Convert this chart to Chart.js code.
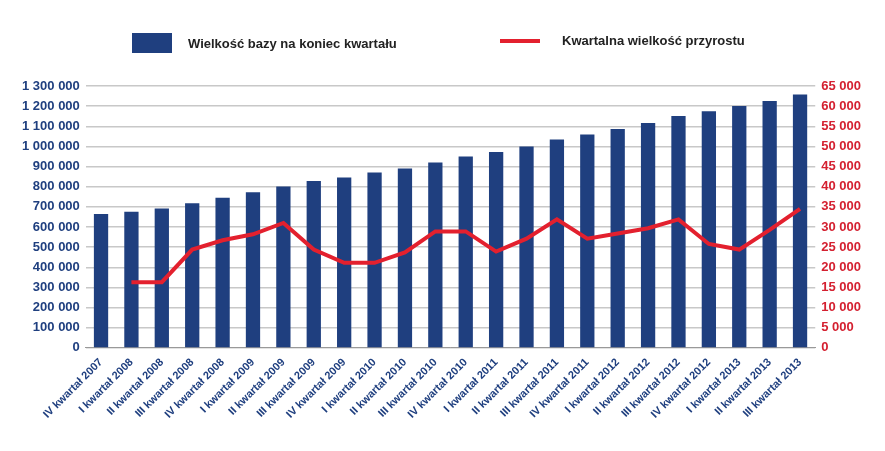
<!DOCTYPE html>
<html>
<head>
<meta charset="utf-8">
<script src="https://cdn.jsdelivr.net/npm/chart.js@4"></script>
<style>
  body { margin: 0; background: #fff; font-family: "Liberation Sans", Arial, sans-serif; }
  #wrap { position: relative; width: 885px; height: 451px; }
  .leg { position: absolute; top: 33px; font-size: 13px; font-weight: bold; color: #222; display: flex; align-items: center; }
  .leg span.box { display: inline-block; width: 40px; height: 20px; background: #1f3f7f; margin-right: 16px; }
  .leg span.ln { display: inline-block; width: 40px; height: 4px; background: #e3202e; margin-right: 22px; }
</style>
</head>
<body>
<div id="wrap">
  <div class="leg" style="left:132px"><span class="box"></span>Wielkość bazy na koniec kwartału</div>
  <div class="leg" style="left:500px"><span class="ln"></span>Kwartalna wielkość przyrostu</div>
  <canvas id="c" width="885" height="451"></canvas>
</div>
<script>
const quarters = ['IV kwartał 2007', 'I kwartał 2008', 'II kwartał 2008', 'III kwartał 2008', 'IV kwartał 2008',
  'I kwartał 2009', 'II kwartał 2009', 'III kwartał 2009', 'IV kwartał 2009', 'I kwartał 2010', 'II kwartał 2010',
  'III kwartał 2010', 'IV kwartał 2010', 'I kwartał 2011', 'II kwartał 2011', 'III kwartał 2011', 'IV kwartał 2011',
  'I kwartał 2012', 'II kwartał 2012', 'III kwartał 2012', 'IV kwartał 2012', 'I kwartał 2013', 'II kwartał 2013',
  'III kwartał 2013'];

const baseSize = [665000, 676000, 692000, 718000, 745000, 773000, 801000, 828000, 846000, 870000, 891000, 920000,
  950000, 972000, 1000000, 1035000, 1059000, 1087000, 1116000, 1151000, 1175000, 1201000, 1226000, 1258000];

const growth = [null, 16300, 16300, 24400, 26700, 28200, 31000, 24400, 21100, 21100, 23700, 28900,
  28900, 23900, 27100, 31900, 27100, 28400, 29700, 31900, 25800, 24400, 29300, 34500];

const fmt = v => String(v).replace(/\B(?=(\d{3})+(?!\d))/g, ' ');

new Chart(document.getElementById('c'), {
  data: {
    labels: quarters,
    datasets: [
      {
        type: 'line', label: 'Kwartalna wielkość przyrostu', data: growth, yAxisID: 'y1',
        borderColor: '#e3202e', borderWidth: 4, pointRadius: 0, tension: 0, order: 0
      },
      {
        type: 'bar', label: 'Wielkość bazy na koniec kwartału', data: baseSize, yAxisID: 'y',
        backgroundColor: '#1f3f7f', barPercentage: 0.47, categoryPercentage: 1, order: 1
      }
    ]
  },
  options: {
    responsive: false,
    animation: false,
    layout: { padding: { top: 86, left: 16, right: 18, bottom: 30 } },
    plugins: { legend: { display: false }, tooltip: { enabled: false } },
    scales: {
      x: {
        grid: { display: false },
        border: { color: '#999' },
        ticks: {
          minRotation: 45, maxRotation: 45, color: '#1f3f7f', padding: 0,
          font: { family: 'Liberation Sans', size: 11, weight: 'bold' }
        }
      },
      y: {
        position: 'left', min: 0, max: 1300000,
        border: { display: false },
        grid: { color: '#c8c8c8', lineWidth: 1.5, drawTicks: false },
        ticks: {
          stepSize: 100000, color: '#1f3f7f', padding: 6, callback: v => fmt(v),
          font: { family: 'Liberation Sans', size: 13, weight: 'bold' }
        }
      },
      y1: {
        position: 'right', min: 0, max: 65000,
        border: { display: false },
        grid: { display: false, drawTicks: false },
        ticks: {
          stepSize: 5000, color: '#d42030', padding: 6, callback: v => fmt(v),
          font: { family: 'Liberation Sans', size: 13, weight: 'bold' }
        }
      }
    }
  }
});
</script>
</body>
</html>
